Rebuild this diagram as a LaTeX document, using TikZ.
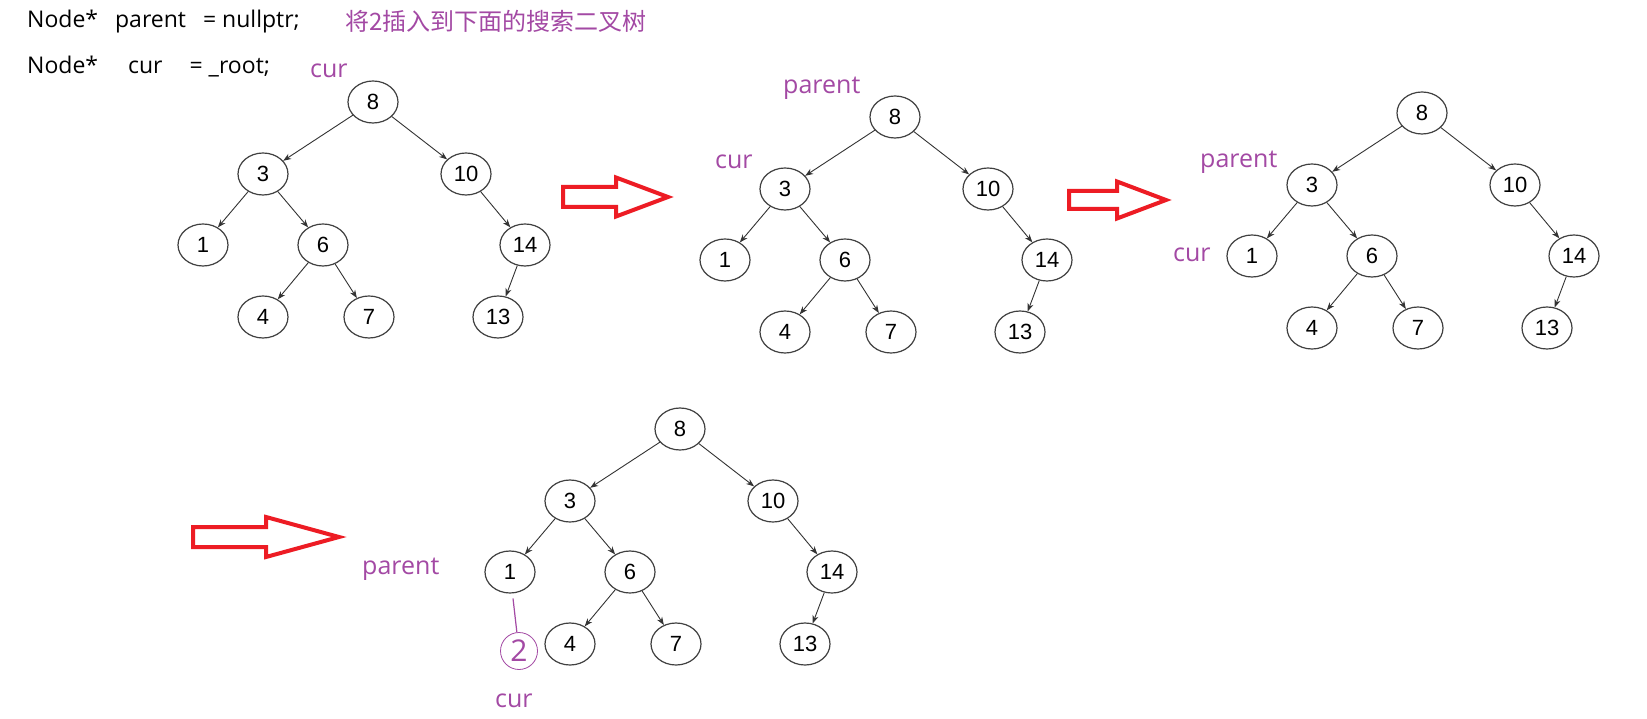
\documentclass[tikz,border=0pt]{standalone}
\usepackage{fontspec}
\setmainfont{Open Sans}
\newfontfamily\cjk{Noto Sans CJK SC}
\newfontfamily\digitfont{Liberation Sans}
\usetikzlibrary{positioning, calc, arrows.meta, shapes.geometric}
\definecolor{paintred}{RGB}{237,28,36}
\definecolor{paintpurple}{RGB}{163,73,164}

\begin{document}
\begin{tikzpicture}[
        x=1pt, y=-1pt,
        num/.style={ellipse, draw=black!75, line width=1.2pt, minimum width=50pt, minimum height=42pt, inner sep=0pt, font=\digitfont\fontsize{22}{24}\selectfont},
        edge/.style={-{Stealth[length=8pt, width=6pt]}, draw=black!80, line width=0.9pt},
        code/.style={anchor=base west, inner sep=0pt, font=\fontsize{23}{28}\selectfont},
        lbl/.style={anchor=base west, inner sep=0pt, text=paintpurple, font=\fontsize{25}{30}\selectfont},
        hollow/.style={draw=paintred, line width=4pt, line join=miter},
        newnode/.style={circle, draw=paintpurple, line width=0.8pt, minimum size=37pt, inner sep=0pt, text=paintpurple, font=\fontsize{30}{32}\selectfont}
    ]
        \path[fill=white, use as bounding box] (0,0) rectangle (1647,719);

        % Code and task
        \node[code] (decl1) at (27,28) {Node*\hspace{17pt}parent\hspace{17pt}= nullptr;};
        \node[code] (decl2) at (27,74) {Node*\hspace{30pt}cur\hspace{27pt}= \_root;};
        \node[lbl, font=\cjk\fontsize{24}{28}\selectfont] (task) at (345,31) {将2插入到下面的搜索二叉树};

        % Trees
        \foreach \t/\rx/\ry in {a/373/102, b/895/117, c/1422/113, d/680/429} {
            \begin{scope}[shift={(\rx,\ry)}]
                \node[num] (\t8) at (0,0) {8};
                \node[num] (\t3) at (-110,72) {3};
                \node[num] (\t10) at (93,72) {10};
                \node[num] (\t1) at (-170,143) {1};
                \node[num] (\t6) at (-50,143) {6};
                \node[num] (\t14) at (152,143) {14};
                \node[num] (\t4) at (-110,215) {4};
                \node[num] (\t7) at (-4,215) {7};
                \node[num] (\t13) at (125,215) {13};

                \draw[edge] (\t8) -- (\t3);
                \draw[edge] (\t8) -- (\t10);
                \draw[edge] (\t3) -- (\t1);
                \draw[edge] (\t3) -- (\t6);
                \draw[edge] (\t10) -- (\t14);
                \draw[edge] (\t6) -- (\t4);
                \draw[edge] (\t6) -- (\t7);
                \draw[edge] (\t14) -- (\t13);
            \end{scope}
        }

        % Pointer labels
        \node[lbl] (curA) at (310,78) {cur};
        \node[lbl] (parB) at (783,94) {parent};
        \node[lbl] (curB) at (715,169) {cur};
        \node[lbl] (parC) at (1200,168) {parent};
        \node[lbl] (curC) at (1173,262) {cur};
        \node[lbl] (parD) at (362,574) {parent};
        \node[lbl] (curD) at (495,707) {cur};

        % Inserted node
        \node[newnode] (two) at (519,651) {2};
        \draw[paintpurple, line width=1.2pt, shorten <=5pt] (d1) -- (two);

        % Step arrows
        \foreach \xa/\xb/\xc/\yc/\sh/\hh in {563/616/668/197/10/19.5, 1069/1117/1166/200/9/18.5, 193/266/339/537/10/20} {
            \draw[hollow] (\xa,\yc-\sh) -- (\xb,\yc-\sh) -- (\xb,\yc-\hh) -- (\xc,\yc)
                -- (\xb,\yc+\hh) -- (\xb,\yc+\sh) -- (\xa,\yc+\sh) -- cycle;
        }
    \end{tikzpicture}
\end{document}
